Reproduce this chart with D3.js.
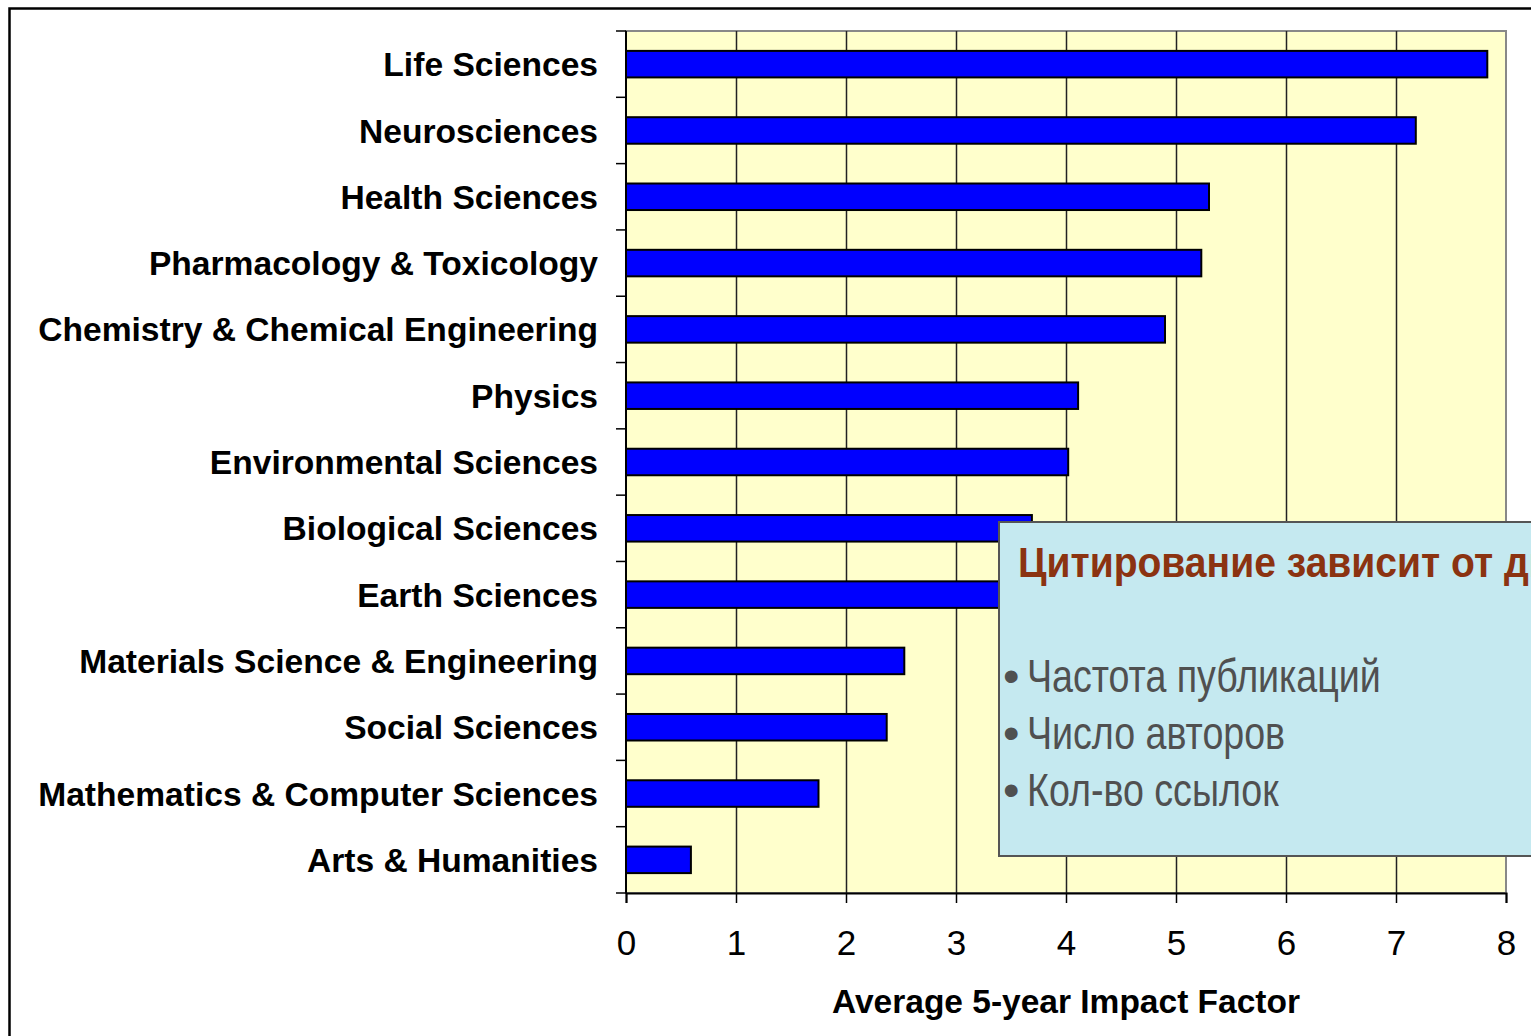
<!DOCTYPE html>
<html lang="en">
  <head>
    <meta charset="utf-8">
    <title>Average 5-year Impact Factor</title>
    <script src="https://d3js.org/d3.v7.min.js"></script>
    <style media="screen" type="text/css">
      html, body { margin: 0; padding: 0; background: #fff; }
      svg { display: block; }
      .cat { font: bold 33.6px "Liberation Sans", Arial, sans-serif; fill: #000; }
      .tick-x { font: 35px "Liberation Sans", Arial, sans-serif; fill: #000; }
      .axis-title { font: bold 33.5px "Liberation Sans", Arial, sans-serif; fill: #000; }
      .note-title { font: bold 42px "Liberation Sans", Arial, sans-serif; fill: #8b3311; }
      .note-item { font: 47px "Liberation Sans", Arial, sans-serif; fill: #505050; }
    </style>
  </head>
  <body>
    <div id="main"></div>
    <script type="text/javascript">
      // Data
      const categories = [
        'Life Sciences',
        'Neurosciences',
        'Health Sciences',
        'Pharmacology & Toxicology',
        'Chemistry & Chemical Engineering',
        'Physics',
        'Environmental Sciences',
        'Biological Sciences',
        'Earth Sciences',
        'Materials Science & Engineering',
        'Social Sciences',
        'Mathematics & Computer Sciences',
        'Arts & Humanities'
      ];
      const impactFactor = [7.83, 7.18, 5.30, 5.23, 4.90, 4.11, 4.02, 3.69, 3.55, 2.53, 2.37, 1.75, 0.59];
      const xTicks = [0, 1, 2, 3, 4, 5, 6, 7, 8];
      const axisTitle = 'Average 5-year Impact Factor';
      const noteTitle = 'Цитирование зависит от дисциплины';
      const noteItems = ['Частота публикаций', 'Число авторов', 'Кол-во ссылок'];

      const W = 1531, H = 1036;
      const plot = { left: 626, right: 1506, top: 31, bottom: 893 };

      const svg = d3.select('#main').append('svg')
        .attr('width', W)
        .attr('height', H);

      // outer frame
      svg.append('path')
        .attr('d', `M9.5,${H + 2}V8.5H${W + 2}`)
        .attr('fill', 'none')
        .attr('stroke', '#000')
        .attr('stroke-width', 2.5);

      const x = d3.scaleLinear().domain([0, 8]).range([plot.left, plot.right]);
      const y = d3.scaleBand().domain(categories).range([plot.top, plot.bottom]).padding(0);
      const barH = y.bandwidth() * 0.4;

      // plot background
      svg.append('rect')
        .attr('x', plot.left).attr('y', plot.top)
        .attr('width', plot.right - plot.left)
        .attr('height', plot.bottom - plot.top)
        .attr('fill', '#ffffcc')
        .attr('stroke', '#888')
        .attr('stroke-width', 2);

      // vertical grid
      svg.append('g')
        .selectAll('line')
        .data(xTicks.filter(d => d > 0 && d < 8))
        .enter().append('line')
          .attr('x1', d => Math.round(x(d)) + 0.5)
          .attr('x2', d => Math.round(x(d)) + 0.5)
          .attr('y1', plot.top)
          .attr('y2', plot.bottom)
          .attr('stroke', '#222')
          .attr('stroke-width', 1.5);

      // bars
      svg.append('g')
        .selectAll('rect')
        .data(categories.map((c, i) => ({ c, v: impactFactor[i] })))
        .enter().append('rect')
          .attr('x', x(0))
          .attr('y', d => y(d.c) + (y.bandwidth() - barH) / 2)
          .attr('width', d => x(d.v) - x(0))
          .attr('height', barH)
          .attr('fill', '#0000ff')
          .attr('stroke', '#000')
          .attr('stroke-width', 2);

      // y axis (category boundaries as ticks)
      const yAxis = svg.append('g');
      yAxis.append('line')
        .attr('x1', plot.left).attr('x2', plot.left)
        .attr('y1', plot.top).attr('y2', plot.bottom)
        .attr('stroke', '#000').attr('stroke-width', 2);
      yAxis.selectAll('.ytick')
        .data(categories.concat([null]))
        .enter().append('line')
          .attr('class', 'ytick')
          .attr('x1', plot.left - 10).attr('x2', plot.left)
          .attr('y1', (d, i) => plot.top + i * y.step())
          .attr('y2', (d, i) => plot.top + i * y.step())
          .attr('stroke', '#000').attr('stroke-width', 1.5);
      yAxis.selectAll('.cat')
        .data(categories)
        .enter().append('text')
          .attr('class', 'cat')
          .attr('x', plot.left - 28)
          .attr('y', d => y(d) + y.bandwidth() / 2)
          .attr('dy', '0.36em')
          .attr('text-anchor', 'end')
          .text(d => d);

      // x axis
      const xAxis = svg.append('g')
        .attr('transform', `translate(0,${plot.bottom})`)
        .call(d3.axisBottom(x).tickValues(xTicks).tickSize(10).tickPadding(27).tickFormat(d3.format('d')));
      xAxis.select('.domain').attr('stroke', '#000').attr('stroke-width', 2);
      xAxis.selectAll('.tick line').attr('stroke', '#000').attr('stroke-width', 1.5);
      xAxis.selectAll('.tick text')
        .attr('class', 'tick-x')
        .attr('font-size', null)
        .attr('font-family', null)
        .attr('fill', null);
      xAxis.attr('font-size', null).attr('font-family', null);

      svg.append('text')
        .attr('class', 'axis-title')
        .attr('x', (plot.left + plot.right) / 2)
        .attr('y', 1013)
        .attr('text-anchor', 'middle')
        .text(axisTitle);

      // note box
      const note = svg.append('g');
      note.append('rect')
        .attr('x', 999).attr('y', 522)
        .attr('width', 600).attr('height', 334)
        .attr('fill', '#c5e9f0')
        .attr('stroke', '#555')
        .attr('stroke-width', 2);
      note.append('text')
        .attr('class', 'note-title')
        .attr('transform', 'translate(1018,577) scale(0.93,1)')
        .text(noteTitle);
      const items = note.selectAll('.item')
        .data(noteItems)
        .enter().append('g')
          .attr('class', 'item')
          .attr('transform', (d, i) => `translate(0,${692 + i * 57})`);
      items.append('text')
        .attr('class', 'note-item')
        .attr('x', 1003)
        .text('•');
      items.append('text')
        .attr('class', 'note-item')
        .attr('transform', 'translate(1027,0) scale(0.8,1)')
        .text(d => d);
    </script>
  </body>
</html>
